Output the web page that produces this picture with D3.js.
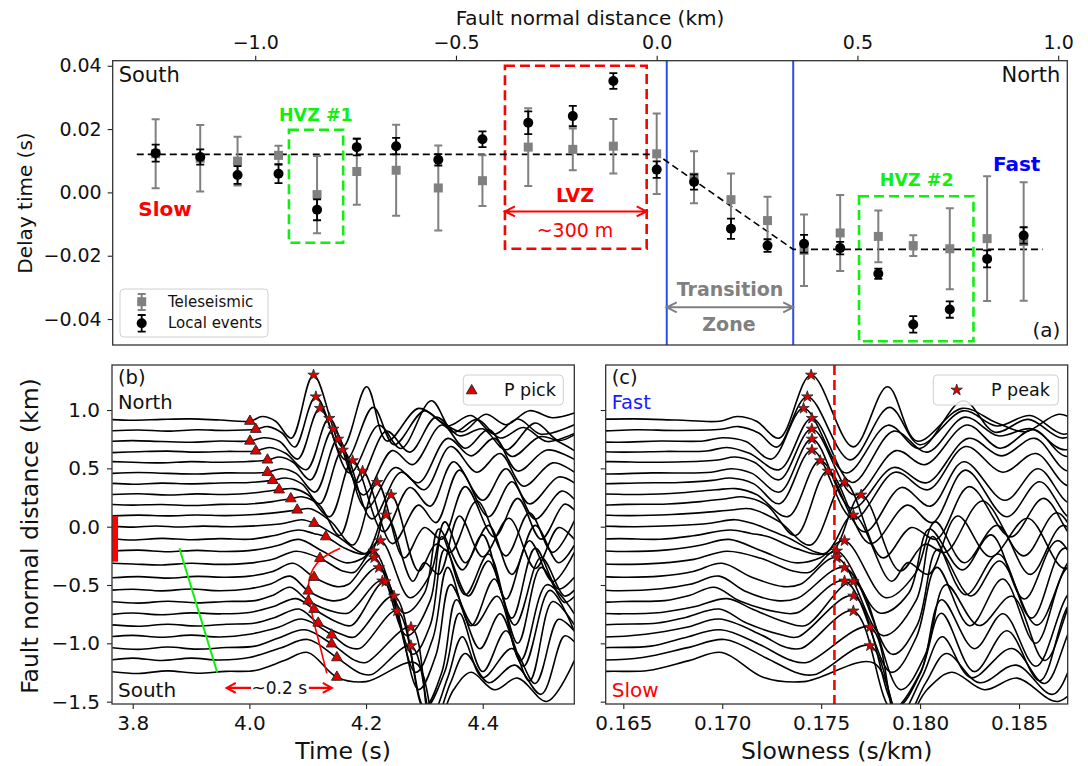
<!DOCTYPE html>
<html>
<head>
<meta charset="utf-8">
<script src="https://cdn.jsdelivr.net/npm/d3@7"></script>
<style>
  body { margin: 0; background: #fff; }
  text { font-family: "DejaVu Sans", sans-serif; }
</style>
</head>
<body>
<svg id="fig" width="1088" height="766"></svg>
<script>
// ---------- data: panel (a), stations from south to north (km)
const stationDist = [-1.248,-1.137,-1.044,-0.942,-0.846,-0.747,-0.649,-0.544,-0.434,-0.320,-0.209,-0.108,0.000,0.093,0.185,0.276,0.367,0.457,0.552,0.639,0.730,0.823,0.914]
const teleDelay = [0.0122,0.0108,0.0099,0.0117,-0.0007,0.0066,0.0070,0.0014,0.0037,0.0143,0.0136,0.0146,0.0122,0.0048,-0.0023,-0.0089,-0.0183,-0.0128,-0.0139,-0.0168,-0.0178,-0.0146,-0.0155]
const teleErr = [0.0109,0.0105,0.0077,0.0030,0.0122,0.0105,0.0144,0.0134,0.0080,0.0123,0.0066,0.0086,0.0127,0.0082,0.0083,0.0075,0.0113,0.0120,0.0082,0.0033,0.0128,0.0197,0.0187]
const localDelay = [0.0124,0.0112,0.0055,0.0059,-0.0055,0.0143,0.0146,0.0103,0.0168,0.0220,0.0241,0.0352,0.0072,0.0033,-0.0115,-0.0168,-0.0162,-0.0176,-0.0257,-0.0417,-0.0370,-0.0210,-0.0136]
const localErr = [0.0027,0.0024,0.0028,0.0030,0.0033,0.0026,0.0026,0.0018,0.0025,0.0036,0.0032,0.0025,0.0026,0.0024,0.0032,0.0020,0.0028,0.0020,0.0016,0.0026,0.0026,0.0027,0.0026]
const refLine = [[-1.295,0.012],[0.0,0.012],[0.34,-0.018],[0.961,-0.018]]
const transitionEdges = [0.025, 0.34]

const xTicksA = [-1.0,-0.5,0.0,0.5,1.0]
const yTicksA = [-0.04,-0.02,0.00,0.02,0.04]

// ---------- data: panels (b) and (c), traces from north to south
// each trace: [time (s), amplitude (km offset)]
const traceShape = [
  [[3.765,0.004],[3.80,-0.002],[3.85,0.006],[3.90,0.010],[3.95,0.000],[4.022,0.030],[4.045,-0.010],[4.072,-0.155],[4.160,-0.230],[4.201,0.286],[4.236,-0.180],[4.290,0.100],[4.330,-0.020],[4.365,-0.100],[4.405,0.050],[4.440,-0.040],[4.480,0.080],[4.520,0.020],[4.557,0.060]],
  [[3.765,0.000],[3.81,0.006],[3.86,-0.004],[3.91,0.008],[3.96,0.002],[4.032,0.035],[4.056,-0.020],[4.078,-0.140],[4.165,-0.250],[4.212,0.200],[4.248,-0.120],[4.300,0.170],[4.340,0.040],[4.380,0.130],[4.420,-0.030],[4.460,0.100],[4.500,-0.030],[4.557,0.050]],
  [[3.765,0.003],[3.80,0.008],[3.85,0.000],[3.90,-0.006],[3.95,0.004],[4.024,0.032],[4.052,0.000],[4.083,-0.150],[4.172,-0.270],[4.222,0.140],[4.260,-0.060],[4.312,0.350],[4.350,0.080],[4.390,0.190],[4.430,0.030],[4.470,0.120],[4.510,0.000],[4.557,0.070]],
  [[3.765,-0.004],[3.81,0.004],[3.86,0.009],[3.91,0.000],[3.96,0.006],[4.035,0.040],[4.062,-0.010],[4.098,-0.150],[4.185,-0.260],[4.235,0.180],[4.275,0.000],[4.320,0.300],[4.360,0.140],[4.400,0.200],[4.440,0.020],[4.490,0.250],[4.530,0.100],[4.557,0.150]],
  [[3.765,0.006],[3.80,0.000],[3.85,-0.005],[3.90,0.006],[3.95,0.000],[3.99,0.004],[4.052,0.045],[4.075,0.000],[4.105,-0.150],[4.195,-0.280],[4.245,0.100],[4.280,-0.020],[4.330,0.320],[4.370,0.120],[4.410,0.280],[4.450,0.050],[4.500,0.220],[4.557,0.100]],
  [[3.765,0.000],[3.81,0.007],[3.86,0.000],[3.91,-0.005],[3.96,0.004],[4.055,0.040],[4.080,0.000],[4.113,-0.160],[4.200,-0.300],[4.250,0.050],[4.290,-0.080],[4.340,0.300],[4.380,0.150],[4.420,0.300],[4.460,0.020],[4.510,0.200],[4.557,0.120]],
  [[3.765,0.004],[3.80,-0.003],[3.85,0.006],[3.90,0.000],[3.95,0.008],[4.00,0.012],[4.062,0.050],[4.090,0.000],[4.121,-0.170],[4.210,-0.300],[4.260,0.100],[4.300,-0.050],[4.345,0.320],[4.390,0.100],[4.430,0.260],[4.470,-0.020],[4.520,0.180],[4.557,0.100]],
  [[3.765,0.000],[3.81,0.006],[3.86,-0.004],[3.91,0.005],[3.96,0.000],[4.01,0.015],[4.075,0.050],[4.100,0.000],[4.138,-0.190],[4.230,-0.320],[4.275,0.060],[4.310,-0.100],[4.350,0.280],[4.400,-0.050],[4.440,0.220],[4.480,-0.080],[4.530,0.150],[4.557,0.100]],
  [[3.765,0.005],[3.80,0.000],[3.85,0.005],[3.90,-0.004],[3.95,0.006],[4.00,0.010],[4.04,0.030],[4.092,0.070],[4.120,0.000],[4.155,-0.260],[4.245,-0.330],[4.290,0.000],[4.320,-0.150],[4.360,0.300],[4.410,-0.100],[4.450,0.200],[4.490,-0.120],[4.535,0.120],[4.557,0.050]],
  [[3.765,0.000],[3.81,0.006],[3.86,0.000],[3.91,0.007],[3.96,0.002],[4.01,0.012],[4.05,0.030],[4.105,0.060],[4.140,-0.050],[4.178,-0.250],[4.265,-0.360],[4.300,-0.100],[4.330,-0.200],[4.370,0.250],[4.420,-0.180],[4.460,0.150],[4.500,-0.200],[4.540,0.100],[4.557,0.050]],
  [[3.765,0.005],[3.80,-0.004],[3.84,0.006],[3.88,-0.003],[3.92,0.005],[3.97,0.000],[4.02,0.010],[4.06,0.030],[4.090,0.060],[4.150,-0.080],[4.205,-0.230],[4.290,-0.380],[4.320,-0.150],[4.345,-0.220],[4.390,0.220],[4.440,-0.250],[4.480,0.120],[4.520,-0.220],[4.557,0.050]],
  [[3.765,0.005],[3.80,-0.006],[3.85,0.008],[3.90,-0.004],[3.95,0.006],[4.00,0.000],[4.04,0.030],[4.085,0.080],[4.110,0.050],[4.165,-0.080],[4.200,-0.120],[4.280,-0.360],[4.300,-0.200],[4.325,-0.300],[4.360,0.200],[4.400,-0.150],[4.445,0.180],[4.490,-0.250],[4.530,0.100],[4.557,0.000]],
  [[3.765,0.000],[3.81,0.008],[3.86,-0.006],[3.91,0.006],[3.96,-0.004],[4.01,0.010],[4.05,0.050],[4.085,0.100],[4.125,0.000],[4.165,-0.100],[4.195,-0.060],[4.275,-0.400],[4.310,-0.200],[4.335,0.250],[4.370,-0.100],[4.410,0.220],[4.450,-0.200],[4.490,0.220],[4.530,-0.100],[4.557,0.050]],
  [[3.765,0.006],[3.80,0.000],[3.85,-0.008],[3.90,0.006],[3.95,-0.003],[4.00,0.008],[4.04,0.040],[4.080,0.110],[4.160,-0.060],[4.180,-0.070],[4.265,-0.420],[4.300,-0.250],[4.325,0.300],[4.365,-0.050],[4.400,0.250],[4.440,-0.300],[4.480,0.200],[4.520,-0.150],[4.557,0.100]],
  [[3.765,-0.004],[3.81,0.006],[3.86,-0.007],[3.91,0.008],[3.96,0.000],[4.00,0.010],[4.04,0.050],[4.075,0.120],[4.150,-0.080],[4.170,-0.060],[4.270,-0.500],[4.310,-0.200],[4.330,0.350],[4.370,-0.150],[4.410,0.200],[4.450,-0.350],[4.490,0.250],[4.530,-0.100],[4.557,0.000]],
  [[3.765,0.000],[3.80,0.008],[3.85,-0.006],[3.90,0.010],[3.95,-0.005],[4.00,0.012],[4.035,0.050],[4.070,0.120],[4.140,-0.090],[4.165,-0.070],[4.280,-0.550],[4.310,-0.300],[4.335,0.350],[4.375,-0.050],[4.410,0.250],[4.455,-0.300],[4.500,0.280],[4.540,-0.050],[4.557,0.000]],
  [[3.765,0.006],[3.81,-0.006],[3.86,0.010],[3.91,-0.004],[3.96,0.008],[4.01,0.015],[4.04,0.060],[4.070,0.130],[4.145,-0.080],[4.170,-0.090],[4.285,-0.600],[4.315,-0.300],[4.340,0.300],[4.380,-0.200],[4.420,0.200],[4.460,-0.350],[4.500,0.300],[4.540,0.000],[4.557,0.050]],
  [[3.765,-0.005],[3.80,0.007],[3.85,-0.008],[3.90,0.008],[3.95,0.000],[4.00,0.012],[4.04,0.060],[4.080,0.130],[4.150,-0.070],[4.175,-0.100],[4.290,-0.650],[4.320,-0.350],[4.345,0.250],[4.385,-0.100],[4.425,0.150],[4.465,-0.400],[4.510,0.250],[4.557,0.000]],
  [[3.765,0.004],[3.81,-0.008],[3.86,0.010],[3.91,-0.006],[3.96,0.010],[4.01,0.020],[4.045,0.070],[4.085,0.140],[4.160,-0.080],[4.180,-0.100],[4.300,-0.700],[4.330,-0.400],[4.355,0.220],[4.395,-0.200],[4.430,0.100],[4.470,-0.350],[4.515,0.300],[4.557,-0.050]],
  [[3.765,0.000],[3.80,0.010],[3.85,-0.006],[3.90,0.012],[3.95,-0.004],[4.00,0.020],[4.050,0.080],[4.090,0.150],[4.170,-0.090],[4.190,-0.100],[4.300,-0.620],[4.335,-0.300],[4.360,0.200],[4.400,-0.300],[4.440,0.050],[4.480,-0.380],[4.520,0.300],[4.557,0.100]],
  [[3.765,0.006],[3.81,-0.008],[3.86,0.012],[3.91,-0.006],[3.96,0.008],[4.01,0.020],[4.050,0.090],[4.095,0.160],[4.180,-0.100],[4.200,-0.120],[4.310,-0.600],[4.340,-0.250],[4.365,0.100],[4.400,-0.250],[4.450,0.000],[4.490,-0.300],[4.530,0.250],[4.557,0.150]],
  [[3.765,-0.004],[3.80,0.010],[3.85,-0.010],[3.90,0.010],[3.95,-0.006],[4.00,0.015],[4.055,0.100],[4.100,0.170],[4.190,-0.120],[4.210,-0.130],[4.315,-0.550],[4.345,-0.200],[4.370,0.050],[4.410,-0.200],[4.455,-0.050],[4.500,-0.300],[4.540,0.200],[4.557,0.150]],
  [[3.765,0.005],[3.81,-0.010],[3.86,0.012],[3.91,-0.008],[3.96,0.008],[4.01,0.015],[4.060,0.100],[4.100,0.170],[4.200,-0.080],[4.285,0.080],[4.320,-0.450],[4.350,-0.150],[4.380,0.000],[4.420,-0.150],[4.460,-0.050],[4.510,-0.250],[4.557,0.100]]
]
const pickTime = [4.001,4.011,4.001,4.011,4.031,4.031,4.040,4.051,4.071,4.082,4.111,4.131,null,4.121,4.111,4.101,4.101,4.111,4.118,4.141,4.141,4.150,4.150]
const pickAmp = [-0.010,0.012,0.004,0.010,0.020,0.009,0.030,0.040,0.055,0.050,0.029,0.022,null,0.049,0.000,-0.007,0.012,0.039,0.020,0.014,0.039,0.014,-0.042]
const peakTime = [4.110,4.114,4.121,4.137,4.144,4.152,4.160,4.177,4.194,4.219,4.243,4.234,4.225,4.213,4.214,4.222,4.228,4.233,4.248,4.253,4.277,4.277,null]
const peakAmp = [0.386,0.291,0.285,0.290,0.285,0.294,0.290,0.290,0.292,0.287,0.272,0.208,0.089,0.112,0.168,0.193,0.184,0.276,0.252,0.220,0.182,0.117,null]
// epicentral distance (km) used to turn time into slowness for panel (c)
const epiDist = [23.554,23.603,23.669,23.703,23.744,23.789,23.835,23.875,23.919,23.947,23.969,23.971,23.981,23.966,23.972,23.964,23.998,23.965,24.050,24.079,24.100,24.100,24.120]

const redCurve = [[4.1556,-0.185],[4.1384,-0.228],[4.1213,-0.285],[4.1098,-0.357],[4.1030,-0.443],[4.1013,-0.542],[4.1041,-0.657],[4.1098,-0.800],[4.1184,-0.971],[4.1270,-1.142],[4.1327,-1.257]]
const greenLine = [[3.880,-0.185],[3.945,-1.251]]
const lvzBar = [0.092,-0.300]
const cSlowRef = 0.17567

const xTicksB = [3.8,4.0,4.2,4.4]
const xTicksC = [0.165,0.170,0.175,0.180,0.185]
const yTicksB = [-1.5,-1.0,-0.5,0.0,0.5,1.0]

// ---------- setup
const FONT = '"DejaVu Sans", sans-serif'
const RED = '#ff0000', GREEN = '#11ee11', BLUE = '#2b4cf2', GRAY = '#808080'
const svg = d3.select('#fig')

function styleAxis(g, size) {
  g.select('.domain').remove()
  g.selectAll('.tick line').attr('stroke', '#222').attr('stroke-width', 1.1)
  g.selectAll('.tick text').attr('font-size', size).attr('fill', '#111').attr('font-family', FONT)
}
function frame(g, p) {
  g.append('rect').attr('x', p.left).attr('y', p.top).attr('width', p.right - p.left).attr('height', p.bottom - p.top)
    .attr('fill', 'none').attr('stroke', '#333').attr('stroke-width', 1.3)
}
function label(g, x, y, txt, size, opts = {}) {
  return g.append('text').attr('x', x).attr('y', y).text(txt)
    .attr('font-size', size).attr('font-family', FONT)
    .attr('text-anchor', opts.anchor || 'middle')
    .attr('dominant-baseline', 'central')
    .attr('font-weight', opts.bold ? 'bold' : 'normal')
    .attr('fill', opts.color || '#111')
}
function arrowHead(x, y, dir, h, w) {
  return `M${x - dir * h},${y - w}L${x},${y}L${x - dir * h},${y + w}`
}
function dblArrow(g, x1, x2, y, color) {
  g.append('path').attr('d', `M${x1},${y}H${x2}` + arrowHead(x1, y, -1, 10, 5) + arrowHead(x2, y, 1, 10, 5))
    .attr('fill', 'none').attr('stroke', color).attr('stroke-width', 2)
}
function oneArrow(g, from, to, y, color) {
  const dir = to > from ? 1 : -1
  g.append('path').attr('d', `M${from},${y}H${to}` + arrowHead(to, y, dir, 9, 5))
    .attr('fill', 'none').attr('stroke', color).attr('stroke-width', 2.2)
}

// ================= panel (a)
const pa = { left: 112.7, right: 1067.3, top: 60.7, bottom: 345 }
const xA = d3.scaleLinear().domain([-1.355, 1.0227]).range([pa.left, pa.right])
const yA = d3.scaleLinear().domain([-0.0482, 0.0416]).range([pa.bottom, pa.top])
const gA = svg.append('g')

gA.append('g').attr('transform', `translate(0,${pa.top})`)
  .call(d3.axisTop(xA).tickValues(xTicksA).tickFormat(d3.format('.1f')).tickSize(5).tickPadding(7))
  .call(styleAxis, 19)
gA.append('g').attr('transform', `translate(${pa.left},0)`)
  .call(d3.axisLeft(yA).tickValues(yTicksA).tickFormat(d3.format('.2f')).tickSize(5).tickPadding(6))
  .call(styleAxis, 19)

// boxes
function dashBox(g, xs, ys, color) {
  g.append('rect').attr('x', xA(xs[0])).attr('y', yA(ys[1]))
    .attr('width', xA(xs[1]) - xA(xs[0])).attr('height', yA(ys[0]) - yA(ys[1]))
    .attr('fill', 'none').attr('stroke', color).attr('stroke-width', 2.6).attr('stroke-dasharray', '10,5')
}
dashBox(gA, [-0.916, -0.781], [-0.0159, 0.0198], GREEN)
dashBox(gA, [-0.378, -0.025], [-0.0178, 0.0400], RED)
dashBox(gA, [0.504, 0.789], [-0.0470, -0.0012], GREEN)

// transition zone edges
gA.selectAll('line.edge').data(transitionEdges).join('line')
  .attr('x1', d => xA(d)).attr('x2', d => xA(d)).attr('y1', pa.top).attr('y2', pa.bottom)
  .attr('stroke', BLUE).attr('stroke-width', 2)

// reference line
gA.append('path').attr('d', d3.line().x(d => xA(d[0])).y(d => yA(d[1]))(refLine))
  .attr('fill', 'none').attr('stroke', '#000').attr('stroke-width', 1.6).attr('stroke-dasharray', '7,4')

// teleseismic (gray squares)
const gT = gA.append('g')
stationDist.forEach((x, i) => {
  const cx = xA(x), y0 = yA(teleDelay[i] - teleErr[i]), y1 = yA(teleDelay[i] + teleErr[i])
  gT.append('path').attr('d', `M${cx},${y0}V${y1}M${cx - 4},${y0}H${cx + 4}M${cx - 4},${y1}H${cx + 4}`)
    .attr('stroke', GRAY).attr('stroke-width', 2).attr('fill', 'none')
  gT.append('rect').attr('x', cx - 4.5).attr('y', yA(teleDelay[i]) - 4.5).attr('width', 9).attr('height', 9).attr('fill', GRAY)
})
// local events (black circles)
const gL = gA.append('g')
stationDist.forEach((x, i) => {
  const cx = xA(x), y0 = yA(localDelay[i] - localErr[i]), y1 = yA(localDelay[i] + localErr[i])
  gL.append('path').attr('d', `M${cx},${y0}V${y1}M${cx - 4},${y0}H${cx + 4}M${cx - 4},${y1}H${cx + 4}`)
    .attr('stroke', '#000').attr('stroke-width', 1.8).attr('fill', 'none')
  gL.append('circle').attr('cx', cx).attr('cy', yA(localDelay[i])).attr('r', 5).attr('fill', '#000')
})

// annotations
label(gA, xA(-0.849), yA(0.0244), 'HVZ #1', 17.5, { bold: true, color: GREEN })
label(gA, xA(0.6476), yA(0.0038), 'HVZ #2', 17.5, { bold: true, color: GREEN })
label(gA, xA(-0.2035), yA(-0.0009), 'LVZ', 19, { bold: true, color: RED })
dblArrow(gA, xA(-0.378), xA(-0.025), yA(-0.0060), RED)
label(gA, xA(-0.2035), yA(-0.0120), '~300 m', 19, { color: RED })
label(gA, xA(0.1826), yA(-0.0305), 'Transition', 19, { bold: true, color: GRAY })
dblArrow(gA, xA(transitionEdges[0]), xA(transitionEdges[1]), yA(-0.0363), GRAY)
label(gA, xA(0.18), yA(-0.0415), 'Zone', 19, { bold: true, color: GRAY })
label(gA, xA(0.8966), yA(0.0089), 'Fast', 20, { bold: true, color: '#0000ff' })
label(gA, xA(-1.2247), yA(-0.0052), 'Slow', 20, { bold: true, color: RED })
label(gA, pa.left + 6, 75, 'South', 21, { anchor: 'start' })
label(gA, pa.right - 7, 75, 'North', 21, { anchor: 'end' })
label(gA, pa.right - 7, 330, '(a)', 20, { anchor: 'end' })

// legend (a)
const lg = gA.append('g')
lg.append('rect').attr('x', 120).attr('y', 289).attr('width', 148).attr('height', 48).attr('rx', 4)
  .attr('fill', '#fff').attr('fill-opacity', 0.8).attr('stroke', '#d0d0d0')
lg.append('path').attr('d', 'M141.7,294V310M137.7,294H145.7M137.7,310H145.7').attr('stroke', GRAY).attr('stroke-width', 2)
lg.append('rect').attr('x', 137.2).attr('y', 297.2).attr('width', 9).attr('height', 9).attr('fill', GRAY)
lg.append('path').attr('d', 'M141.7,315V331.7M137.7,315H145.7M137.7,331.7H145.7').attr('stroke', '#000').attr('stroke-width', 1.8)
lg.append('circle').attr('cx', 141.7).attr('cy', 323.3).attr('r', 5).attr('fill', '#000')
label(lg, 168, 301.7, 'Teleseismic', 15, { anchor: 'start' })
label(lg, 168, 323.3, 'Local events', 15, { anchor: 'start' })

frame(gA, pa)
label(svg, (pa.left + pa.right) / 2, 18, 'Fault normal distance (km)', 20)
label(svg, 0, 0, 'Delay time (s)', 20).attr('transform', `translate(25,203) rotate(-90)`)

// ================= traces
const traces = traceShape.map((shape, i) => {
  const pts = shape.slice()
  if (pickTime[i] != null) pts.push([pickTime[i], pickAmp[i]])
  if (peakTime[i] != null) pts.push([peakTime[i], peakAmp[i]])
  pts.sort((a, b) => a[0] - b[0])
  return { base: stationDist[stationDist.length - 1 - i], epi: epiDist[i], pts }
})

const pb = { left: 112, right: 574.3, top: 365, bottom: 704 }
const pc = { left: 605.7, right: 1067.7, top: 365, bottom: 704 }
const xB = d3.scaleLinear().domain([3.7645, 4.557]).range([pb.left, pb.right])
const xC = d3.scaleLinear().domain([0.16411, 0.18746]).range([pc.left, pc.right])
const yB = d3.scaleLinear().domain([-1.52, 1.386]).range([pb.bottom, pb.top])

const defs = svg.append('defs')
defs.append('clipPath').attr('id', 'clipB').append('rect')
  .attr('x', pb.left).attr('y', pb.top).attr('width', pb.right - pb.left).attr('height', pb.bottom - pb.top)
defs.append('clipPath').attr('id', 'clipC').append('rect')
  .attr('x', pc.left).attr('y', pc.top).attr('width', pc.right - pc.left).attr('height', pc.bottom - pc.top)

const triangle = d3.symbol().type(d3.symbolTriangle).size(50)
const star = d3.symbol().type(d3.symbolStar).size(40)

// ---------- panel (b)
const gB = svg.append('g')
gB.append('g').attr('transform', `translate(0,${pb.bottom})`)
  .call(d3.axisBottom(xB).tickValues(xTicksB).tickFormat(d3.format('.1f')).tickSize(5).tickPadding(7))
  .call(styleAxis, 20)
gB.append('g').attr('transform', `translate(${pb.left},0)`)
  .call(d3.axisLeft(yB).tickValues(yTicksB).tickFormat(d3.format('.1f')).tickSize(5).tickPadding(7))
  .call(styleAxis, 20)

const plotB = gB.append('g').attr('clip-path', 'url(#clipB)')
const lineB = d3.line().x(d => xB(d[0])).y(d => yB(d[1])).curve(d3.curveCatmullRom.alpha(0.5))
plotB.selectAll('path.trace').data(traces).join('path').attr('class', 'trace')
  .attr('d', tr => lineB(tr.pts.map(p => [p[0], tr.base + p[1]])))
  .attr('fill', 'none').attr('stroke', '#000').attr('stroke-width', 1.6)

plotB.append('line').attr('x1', xB(3.7697)).attr('x2', xB(3.7697)).attr('y1', yB(lvzBar[0])).attr('y2', yB(lvzBar[1]))
  .attr('stroke', RED).attr('stroke-width', 6)
plotB.append('path').attr('d', d3.line().x(d => xB(d[0])).y(d => yB(d[1]))(greenLine))
  .attr('stroke', GREEN).attr('stroke-width', 2).attr('fill', 'none')
plotB.append('path').attr('d', d3.line().x(d => xB(d[0])).y(d => yB(d[1])).curve(d3.curveCatmullRom)(redCurve))
  .attr('stroke', RED).attr('stroke-width', 1.6).attr('fill', 'none')

traces.forEach((tr, i) => {
  if (pickTime[i] != null)
    plotB.append('path').attr('d', triangle).attr('transform', `translate(${xB(pickTime[i])},${yB(tr.base + pickAmp[i])})`)
      .attr('fill', '#e00000').attr('stroke', '#222').attr('stroke-width', 0.9)
})
traces.forEach((tr, i) => {
  if (peakTime[i] != null)
    plotB.append('path').attr('d', star).attr('transform', `translate(${xB(peakTime[i])},${yB(tr.base + peakAmp[i])})`)
      .attr('fill', '#e00000').attr('stroke', '#222').attr('stroke-width', 0.8)
})

// ~0.2 s
const yAnn = yB(-1.382)
oneArrow(gB, xB(4.003), xB(3.9612), yAnn, RED)
oneArrow(gB, xB(4.102), xB(4.1413), yAnn, RED)
label(gB, xB(4.0513), yAnn, '~0.2 s', 17)

// legend (b)
gB.append('rect').attr('x', pb.right - 111).attr('y', pb.top + 10).attr('width', 100).attr('height', 30).attr('rx', 4)
  .attr('fill', '#fff').attr('fill-opacity', 0.85).attr('stroke', '#d0d0d0')
gB.append('path').attr('d', triangle).attr('transform', `translate(${pb.right - 102.6},${pb.top + 25.7})`)
  .attr('fill', '#e00000').attr('stroke', '#222').attr('stroke-width', 0.9)
label(gB, pb.right - 70.3, pb.top + 25, 'P pick', 17.5, { anchor: 'start' })

label(gB, pb.left + 6, pb.top + 12, '(b)', 19.5, { anchor: 'start' })
label(gB, pb.left + 6, pb.top + 37, 'North', 19.5, { anchor: 'start' })
label(gB, pb.left + 6, pb.bottom - 14, 'South', 20, { anchor: 'start' })
frame(gB, pb)
label(svg, (pb.left + pb.right) / 2, 751, 'Time (s)', 23.5)
label(svg, 0, 0, 'Fault normal distance (km)', 23.5).attr('transform', `translate(30,536) rotate(-90)`)

// ---------- panel (c)
const gC = svg.append('g')
gC.append('g').attr('transform', `translate(0,${pc.bottom})`)
  .call(d3.axisBottom(xC).tickValues(xTicksC).tickFormat(d3.format('.3f')).tickSize(5).tickPadding(7))
  .call(styleAxis, 20)
gC.append('g').attr('transform', `translate(${pc.left},0)`)
  .call(d3.axisLeft(yB).tickValues(yTicksB).tickFormat('').tickSize(5))
  .call(styleAxis, 20)

const plotC = gC.append('g').attr('clip-path', 'url(#clipC)')
const lineC = d3.line().x(d => xC(d[0])).y(d => yB(d[1])).curve(d3.curveCatmullRom.alpha(0.5))
plotC.selectAll('path.trace').data(traces).join('path').attr('class', 'trace')
  .attr('d', tr => lineC(tr.pts.map(p => [p[0] / tr.epi, tr.base + p[1]])))
  .attr('fill', 'none').attr('stroke', '#000').attr('stroke-width', 1.6)
plotC.append('line').attr('x1', xC(cSlowRef)).attr('x2', xC(cSlowRef)).attr('y1', pc.top).attr('y2', pc.bottom)
  .attr('stroke', RED).attr('stroke-width', 2.6).attr('stroke-dasharray', '10,5')
traces.forEach((tr, i) => {
  if (peakTime[i] != null)
    plotC.append('path').attr('d', star).attr('transform', `translate(${xC(peakTime[i] / tr.epi)},${yB(tr.base + peakAmp[i])})`)
      .attr('fill', '#e00000').attr('stroke', '#222').attr('stroke-width', 0.8)
})

gC.append('rect').attr('x', pc.right - 134.4).attr('y', pc.top + 10).attr('width', 125).attr('height', 30).attr('rx', 4)
  .attr('fill', '#fff').attr('fill-opacity', 0.85).attr('stroke', '#d0d0d0')
gC.append('path').attr('d', star).attr('transform', `translate(${pc.right - 111},${pc.top + 25})`)
  .attr('fill', '#e00000').attr('stroke', '#222').attr('stroke-width', 0.8)
label(gC, pc.right - 76.7, pc.top + 25, 'P peak', 17.5, { anchor: 'start' })

label(gC, pc.left + 6, pc.top + 12, '(c)', 19.5, { anchor: 'start' })
label(gC, pc.left + 6, pc.top + 37, 'Fast', 19.5, { anchor: 'start', color: '#1a1aff' })
label(gC, pc.left + 6, pc.bottom - 14, 'Slow', 20, { anchor: 'start', color: RED })
frame(gC, pc)
label(svg, (pc.left + pc.right) / 2, 751, 'Slowness (s/km)', 23.5)
</script>
</body>
</html>
